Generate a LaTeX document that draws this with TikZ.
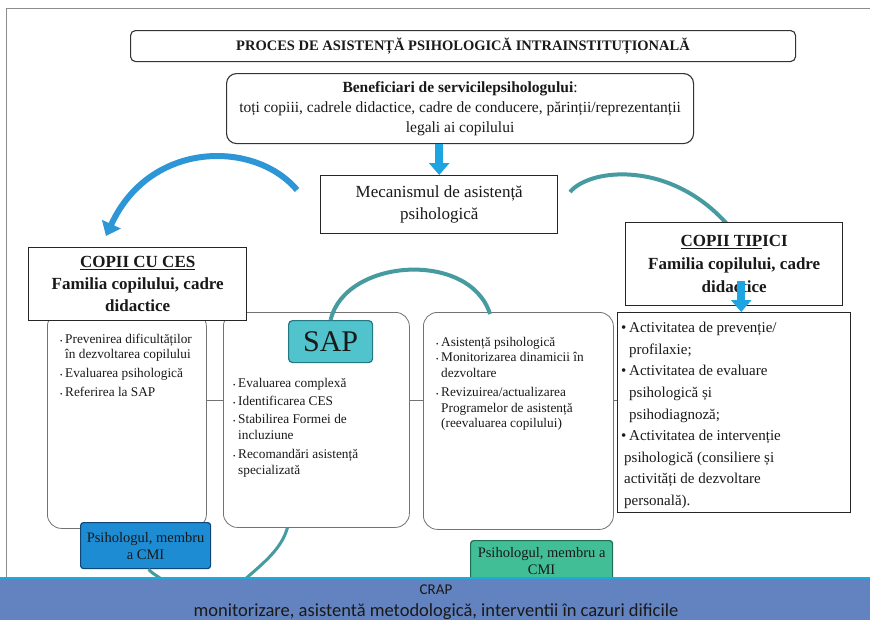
\documentclass[tikz,border=0pt]{standalone}
\usepackage{fontspec}
\setmainfont{Liberation Serif}
\newfontfamily\bandfont{Carlito}
\usetikzlibrary{arrows.meta,calc}
\definecolor{arcblue}{RGB}{45,150,215}
\definecolor{arcteal}{RGB}{70,155,160}
\definecolor{arrowblue}{RGB}{30,165,225}
\definecolor{sapfill}{RGB}{80,195,205}
\definecolor{sapdraw}{RGB}{35,120,130}
\definecolor{psiblue}{RGB}{30,140,210}
\definecolor{psiblued}{RGB}{15,70,120}
\definecolor{psigreen}{RGB}{65,190,150}
\definecolor{psigreend}{RGB}{30,110,85}
\definecolor{bandblue}{RGB}{98,131,192}
\definecolor{bandline}{RGB}{30,170,220}
\definecolor{txt}{RGB}{25,25,25}
\newcommand{\bul}{\makebox[5pt][l]{\scriptsize\textbullet}}
\newcommand{\cnt}{\hspace*{5pt}}
\newcommand{\bigbul}{\makebox[8pt][l]{\textbullet}}
\newcommand{\bigcnt}{\hspace*{8pt}}
\begin{document}
\begin{tikzpicture}[x=1pt,y=-1pt,
  titlebox/.style={draw=black!80, line width=1.1pt, rounded corners=5pt, fill=white, inner sep=0pt, text=txt},
  sqbox/.style={draw=black!85, line width=1.4pt, fill=white, inner sep=0pt, text=txt},
  smartbox/.style={draw=black!55, line width=0.8pt, rounded corners=14pt, fill=white, inner sep=0pt},
  listtext/.style={anchor=north west, align=left, inner sep=0pt, text=txt},
  bluearc/.style={draw=arcblue, line width=6pt},
  tealarc/.style={draw=arcteal, line width=4pt},
  blockarrow/.style={draw=arrowblue, line width=8pt, -{Triangle[width=20pt,length=12pt]}},
  psibox/.style={rounded corners=3pt, line width=1.2pt, inner sep=0pt, align=center, text=txt, font=\fontsize{14.5}{17}\selectfont},
  link/.style={draw=black!55, line width=0.8pt},
]
\useasboundingbox (0,0) rectangle (870,619);
\fill[white] (0,0) rectangle (870,619);
\draw[black!45, line width=1pt] (6,578) -- (6,8) -- (870,8);

% connector arcs (drawn first, under the boxes)
\coordinate (larcS) at (297,190);
\coordinate (larcE) at (106,236);
\coordinate (rarcS) at (570,192);
\coordinate (rarcE) at (727,224);
\coordinate (sapE) at (490,314);
\coordinate (bandA) at (163,581);
\coordinate (bandB) at (243,581);

\draw[bluearc, -{Triangle[width=20pt,length=13pt]}] (larcS) .. controls (255,140) and (150,140) .. (larcE);
\draw[tealarc] (rarcS) .. controls (590,168) and (670,160) .. (rarcE);

% three rounded boxes
\node[smartbox, anchor=north west, minimum width=159pt, minimum height=216pt] (b1) at (47,312) {};
\node[smartbox, anchor=north west, minimum width=186pt, minimum height=215pt] (b2) at (223,312) {};
\node[smartbox, anchor=north west, minimum width=190pt, minimum height=217pt] (b3) at (423,312) {};
\draw[link] (b1.east |- 0,400) -- (b2.west |- 0,400);
\draw[link] (b2.east |- 0,400) -- (b3.west |- 0,400);

% right list box
\node[sqbox, anchor=north west, minimum width=233pt, minimum height=200pt] (act) at (617,312) {};
\draw[link] (b3.east |- 0,400) -- (act.west |- 0,400);

% SAP
\node[anchor=north west, minimum width=84pt, minimum height=42pt, fill=sapfill, draw=sapdraw, line width=1.2pt, rounded corners=4pt, inner sep=0pt, font=\fontsize{30}{30}\selectfont, text=txt] (sap) at (288,320) {SAP};
\draw[tealarc] (sap.north) .. controls (345,258) and (470,250) .. (sapE);

% title and beneficiaries
\node[titlebox, anchor=north west, minimum width=665pt, minimum height=31pt, font=\fontsize{14.5}{16}\selectfont\bfseries] (title) at (130,30) {PROCES DE ASISTENȚĂ PSIHOLOGICĂ INTRAINSTITUȚIONALĂ};
\node[titlebox, rounded corners=10pt, anchor=north west, minimum width=467pt, minimum height=70pt, align=center, font=\fontsize{15.5}{20}\selectfont] (benef) at (226,73) {\textbf{Beneficiari de servicilepsihologului}:\\ toți copiii, cadrele didactice, cadre de conducere, părinții/reprezentanții\\ legali ai copilului};

% mechanism
\node[sqbox, anchor=north west, minimum width=237pt, minimum height=58pt, align=center, font=\fontsize{17}{22}\selectfont] (mec) at (320,175) {Mecanismul de asistență\\ psihologică};
\draw[blockarrow] (mec.north |- benef.south) -- (mec.north);

% COPII CU CES
\node[sqbox, anchor=north west, minimum width=218pt, minimum height=73pt, align=center, font=\fontsize{17}{22}\selectfont\bfseries] (ces) at (28,247) {\underline{COPII CU CES}\\ Familia copilului, cadre\\ didactice};

% COPII TIPICI
\node[sqbox, anchor=north west, minimum width=217pt, minimum height=83pt, align=center, font=\fontsize{17}{23}\selectfont\bfseries] (tip) at (625,222) {\underline{COPII TIP}ICI\\ Familia copilului, cadre\\ didactice};
\coordinate (tipA) at ($(tip.south)+(7,-25)$);
\draw[blockarrow] (tipA) -- (tipA |- act.north);

% list texts
\node[listtext, font=\fontsize{13.3}{15}\selectfont] (t1) at (60,333.5) {\bul Prevenirea dificultăților\\ \cnt în dezvoltarea copilului\\[4pt] \bul Evaluarea psihologică\\[4pt] \bul Referirea  la SAP};
\node[listtext, font=\fontsize{13.3}{16}\selectfont] (t2) at (233,378) {\bul Evaluarea complexă\\[2pt] \bul Identificarea CES\\[2pt] \bul Stabilirea Formei de\\ \cnt incluziune\\[3pt] \bul Recomandări asistență\\ \cnt specializată};
\node[listtext, font=\fontsize{13.3}{15.5}\selectfont] (t3) at (436,337) {\bul Asistență psihologică\\ \bul Monitorizarea dinamicii în\\ \cnt dezvoltare\\[4pt] \bul Revizuirea/actualizarea\\ \cnt Programelor de asistență\\ \cnt (reevaluarea copilului)};
\node[listtext, font=\fontsize{15}{21.6}\selectfont] (t4) at (621,322) {\bigbul Activitatea de prevenție/\\ \bigcnt profilaxie;\\ \bigbul Activitatea de evaluare\\ \bigcnt psihologică și\\ \bigcnt psihodiagnoză;\\ \bigbul Activitatea de intervenție\\ \hspace*{3pt}psihologică (consiliere și\\ \hspace*{3pt}activități de dezvoltare\\ \hspace*{3pt}personală).};

% psychologists
\node[psibox, anchor=north west, minimum width=130pt, minimum height=46pt, fill=psiblue, draw=psiblued] (psiL) at (80,522) {Psihologul, membru\\ a CMI};
\node[psibox, anchor=north west, minimum width=142pt, minimum height=40pt, fill=psigreen, draw=psigreend] (psiR) at (470,540) {Psihologul, membru a\\ CMI};
\draw[tealarc, line width=3pt] ($(psiL.south)+(3,0)$) .. controls +(5,6) and +(-4,-5) .. (bandA);
\draw[tealarc, line width=3pt] ($(b2.south)+(-29,0)$) .. controls +(-6,22) and +(18,-16) .. (bandB);

% CRAP band
\node[anchor=north west, minimum width=870pt, minimum height=42pt, fill=bandblue, inner sep=0pt] (crap) at (0,578) {};
\draw[bandline, line width=2.5pt] (crap.north west) -- (crap.north east);
\node[anchor=base, inner sep=0pt, font=\bandfont\fontsize{15}{16}\selectfont, text=txt] (crapt) at (436,594) {CRAP};
\node[anchor=base, inner sep=0pt, font=\bandfont\fontsize{18.5}{20}\selectfont, text=txt] (crapd) at (436,616) {monitorizare, asistentă metodologică, interventii în cazuri dificile};
\end{tikzpicture}
\end{document}
